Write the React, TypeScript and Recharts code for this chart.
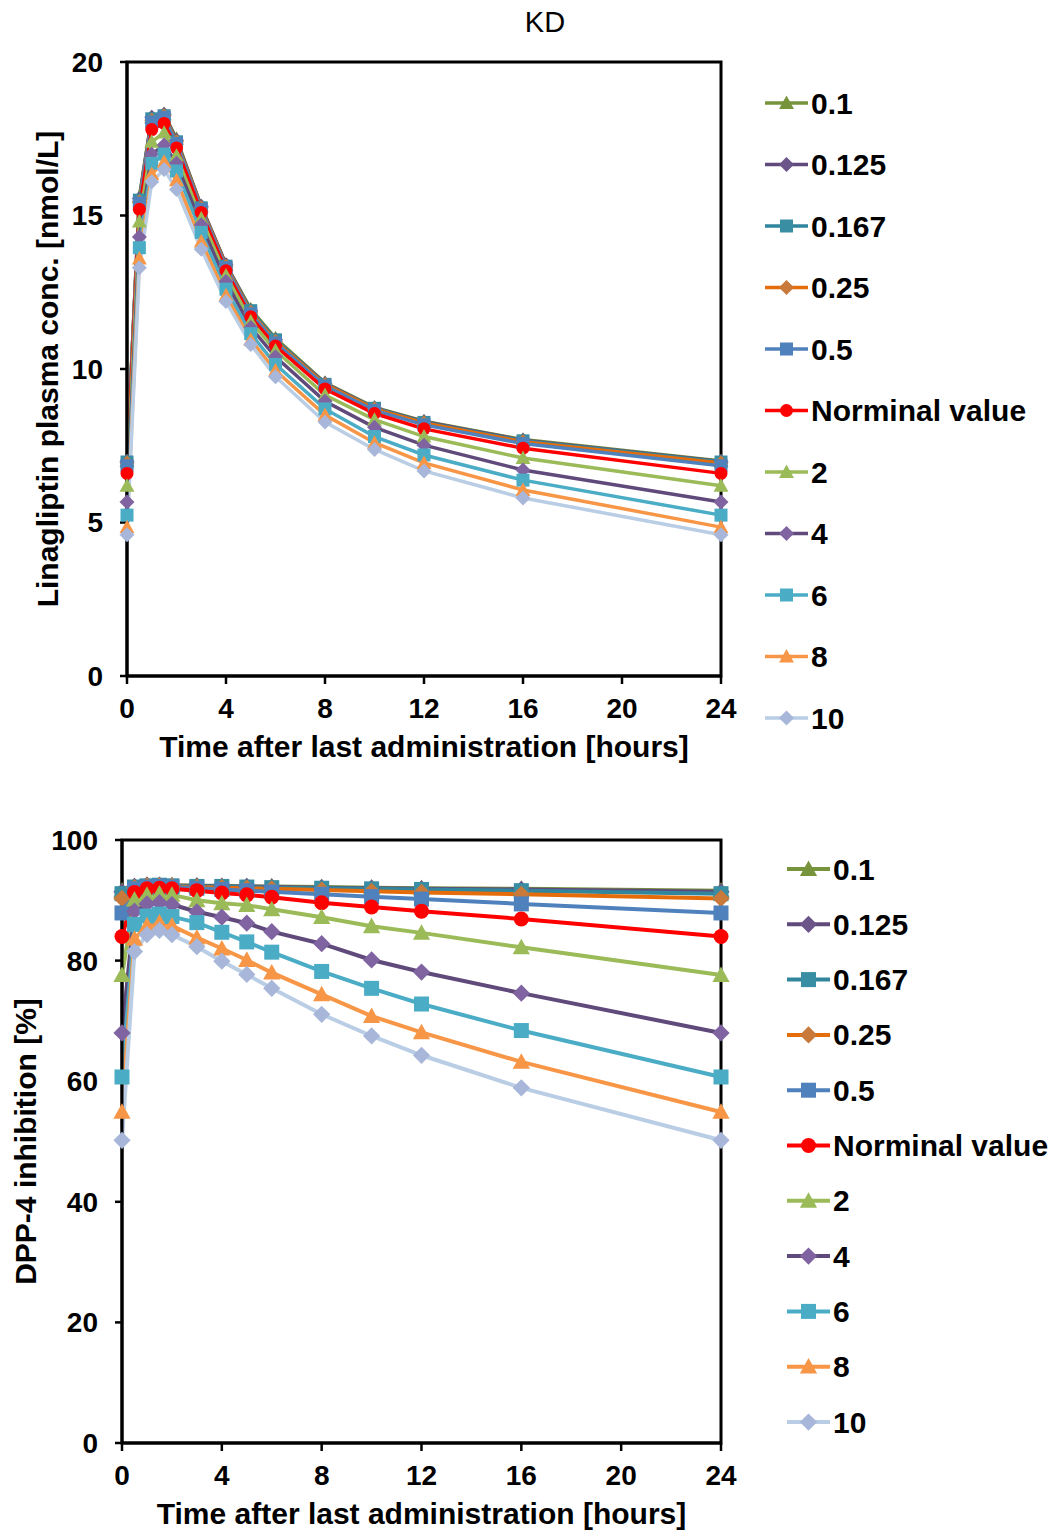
import { LineChart, Line, XAxis, YAxis, ReferenceArea } from 'recharts';

const FONT = '"Liberation Sans", Arial, sans-serif';

// hours after last dose
const TIMES = [0, 0.5, 1, 1.5, 2, 3, 4, 5, 6, 8, 10, 12, 16, 24];
const X_TICKS = [0, 4, 8, 12, 16, 20, 24];
const CONC_TICKS = [0, 5, 10, 15, 20];
const INHIB_TICKS = [0, 20, 40, 60, 80, 100];

const SERIES_NAMES = ['0.1', '0.125', '0.167', '0.25', '0.5', 'Norminal value', '2', '4', '6', '8', '10'];

// linagliptin plasma conc. [nmol/L]
const conc01 = [7.0, 15.6, 18.2, 18.3, 17.5, 15.3, 13.4, 11.95, 11.0, 9.55, 8.75, 8.3, 7.7, 7.0];
const conc0125 = [6.99, 15.55, 18.2, 18.3, 17.45, 15.3, 13.4, 11.9, 10.95, 9.53, 8.73, 8.28, 7.68, 6.99];
const conc0167 = [6.97, 15.5, 18.15, 18.25, 17.4, 15.25, 13.35, 11.9, 10.95, 9.5, 8.72, 8.26, 7.66, 6.97];
const conc025 = [6.94, 15.45, 18.1, 18.25, 17.4, 15.25, 13.35, 11.85, 10.9, 9.5, 8.7, 8.24, 7.63, 6.94];
const conc05 = [6.85, 15.4, 18.05, 18.2, 17.35, 15.2, 13.3, 11.8, 10.85, 9.45, 8.65, 8.18, 7.57, 6.85];
const concNom = [6.6, 15.2, 17.8, 18.0, 17.2, 15.1, 13.2, 11.7, 10.75, 9.35, 8.55, 8.05, 7.42, 6.6];
const conc2 = [6.2, 14.8, 17.4, 17.7, 16.95, 14.9, 13.05, 11.55, 10.6, 9.15, 8.35, 7.8, 7.1, 6.2];
const conc4 = [5.67, 14.3, 17.0, 17.3, 16.7, 14.7, 12.85, 11.35, 10.4, 8.95, 8.1, 7.52, 6.71, 5.67];
const conc6 = [5.24, 13.95, 16.7, 17.0, 16.45, 14.45, 12.6, 11.15, 10.15, 8.7, 7.8, 7.2, 6.38, 5.24];
const conc8 = [4.85, 13.6, 16.35, 16.75, 16.15, 14.15, 12.4, 10.95, 9.95, 8.5, 7.6, 6.94, 6.06, 4.85];
const conc10 = [4.6, 13.3, 16.1, 16.5, 15.85, 13.9, 12.2, 10.8, 9.75, 8.27, 7.38, 6.68, 5.8, 4.6];

// DPP-4 inhibition [%]
const inhib01 = [91.6, 92.3, 92.5, 92.5, 92.5, 92.4, 92.4, 92.3, 92.3, 92.2, 92.1, 92.0, 91.9, 91.6];
const inhib0125 = [91.4, 92.3, 92.5, 92.5, 92.4, 92.4, 92.3, 92.3, 92.2, 92.1, 92.0, 91.9, 91.8, 91.4];
const inhib0167 = [91.1, 92.2, 92.4, 92.5, 92.4, 92.3, 92.3, 92.2, 92.1, 92.0, 91.9, 91.8, 91.6, 91.1];
const inhib025 = [90.3, 92.1, 92.4, 92.4, 92.3, 92.2, 92.1, 92.0, 91.9, 91.7, 91.5, 91.3, 91.0, 90.3];
const inhib05 = [87.9, 91.9, 92.2, 92.3, 92.2, 92.0, 91.8, 91.6, 91.4, 91.0, 90.6, 90.2, 89.4, 87.9];
const inhibNom = [84.0, 91.3, 91.9, 92.0, 91.9, 91.6, 91.2, 90.9, 90.5, 89.6, 88.9, 88.2, 86.9, 84.0];
const inhib2 = [77.6, 90.1, 90.9, 91.1, 90.9, 90.0, 89.5, 89.2, 88.5, 87.2, 85.7, 84.6, 82.2, 77.6];
const inhib4 = [68.0, 88.2, 89.4, 89.6, 89.3, 88.1, 87.2, 86.2, 84.8, 82.8, 80.1, 78.1, 74.6, 68.0];
const inhib6 = [60.7, 86.0, 87.4, 87.7, 87.3, 86.3, 84.7, 83.1, 81.4, 78.2, 75.4, 72.8, 68.4, 60.7];
const inhib8 = [54.9, 83.6, 85.8, 86.3, 85.8, 83.8, 82.0, 80.1, 78.0, 74.4, 70.8, 68.1, 63.2, 54.9];
const inhib10 = [50.2, 81.5, 84.3, 85.0, 84.3, 82.3, 79.9, 77.7, 75.4, 71.1, 67.5, 64.3, 58.9, 50.2];

const CONC_SERIES = [conc01, conc0125, conc0167, conc025, conc05, concNom, conc2, conc4, conc6, conc8, conc10];
const INHIB_SERIES = [inhib01, inhib0125, inhib0167, inhib025, inhib05, inhibNom, inhib2, inhib4, inhib6, inhib8, inhib10];

const LINE_COLORS = ['#77933C', '#604A7B', '#31859C', '#E46C0A', '#4F81BD', '#FF0000', '#9BBB59', '#604A7B', '#4BACC6', '#F79646', '#B9CDE5'];
const MARKER_COLORS = ['#77933C', '#6B5589', '#3A8EA3', '#C9793A', '#4F81BD', '#FF0000', '#9BBB59', '#8064A2', '#4BACC6', '#F79646', '#A7B6D9'];
const SHAPES = ['triangle', 'diamond', 'square', 'diamond', 'square', 'circle', 'triangle', 'diamond', 'square', 'triangle', 'diamond'];

function buildRows(series: number[][]) {
    return TIMES.map((t, i) => {
        const row: Record<string, number> = { t };
        series.forEach((vals, k) => { row['s' + k] = vals[i]; });
        return row;
    });
}

function Marker({ shape, cx, cy, s, fill }: { shape: string; cx?: number; cy?: number; s: number; fill: string }) {
    if (cx == null || cy == null) return null;
    const h = s / 2;
    if (shape === 'circle') return <circle cx={cx} cy={cy} r={h} fill={fill} />;
    if (shape === 'square') return <rect x={cx - h} y={cy - h} width={s} height={s} fill={fill} />;
    if (shape === 'diamond') {
        const d = h * 1.15;
        return <polygon points={`${cx},${cy - d} ${cx + d},${cy} ${cx},${cy + d} ${cx - d},${cy}`} fill={fill} />;
    }
    const t = h * 1.15;
    return <polygon points={`${cx},${cy - t} ${cx + t},${cy + t * 0.8} ${cx - t},${cy + t * 0.8}`} fill={fill} />;
}

const tickStyle = { fill: '#000', fontSize: 28, fontWeight: 700, fontFamily: FONT };
const titleStyle = { fill: '#000', fontSize: 30, fontWeight: 700, fontFamily: FONT };

interface PanelProps {
    series: number[][];
    yMax: number;
    yTicks: number[];
    yLabel: string;
    yLabelX: number;
    marginTop: number;
    height: number;
    yAxisWidth: number;
    xAxisHeight: number;
    markerSize: number;
    lineWidth: number;
}

function Panel({ series, yMax, yTicks, yLabel, yLabelX, marginTop, height, yAxisWidth, xAxisHeight, markerSize, lineWidth }: PanelProps) {
    const rows = buildRows(series);
    return (
        <LineChart width={740} height={height} data={rows} margin={{ top: marginTop, right: 19, left: 0, bottom: 0 }}>
            <XAxis
                dataKey="t"
                type="number"
                domain={[0, 24]}
                ticks={X_TICKS}
                height={xAxisHeight}
                axisLine={{ stroke: '#000', strokeWidth: 3 }}
                tickLine={{ stroke: '#000', strokeWidth: 2.5 }}
                tickSize={8}
                tickMargin={14}
                tick={tickStyle}
                label={{
                    content: (props: any) => {
                        const vb = props.viewBox;
                        return (
                            <text x={vb.x + vb.width / 2} y={vb.y + 81} textAnchor="middle" style={titleStyle}>
                                Time after last administration [hours]
                            </text>
                        );
                    },
                }}
            />
            <YAxis
                type="number"
                domain={[0, yMax]}
                ticks={yTicks}
                width={yAxisWidth}
                axisLine={{ stroke: '#000', strokeWidth: 3 }}
                tickLine={{ stroke: '#000', strokeWidth: 2.5 }}
                tickSize={7}
                tickMargin={17}
                tick={tickStyle}
                label={{
                    content: (props: any) => {
                        const vb = props.viewBox;
                        const cy = vb.y + vb.height / 2;
                        return (
                            <text x={yLabelX} y={cy} transform={`rotate(-90 ${yLabelX} ${cy})`} textAnchor="middle" dominantBaseline="central" style={titleStyle}>
                                {yLabel}
                            </text>
                        );
                    },
                }}
            />
            <ReferenceArea x1={0} x2={24} y1={0} y2={yMax} fill="none" stroke="#000" strokeWidth={3} />
            {SERIES_NAMES.map((name, k) => (
                <Line
                    key={name}
                    dataKey={'s' + k}
                    name={name}
                    type="linear"
                    stroke={LINE_COLORS[k]}
                    strokeWidth={lineWidth}
                    isAnimationActive={false}
                    dot={(p: any) => <Marker key={`${k}-${p.index}`} shape={SHAPES[k]} cx={p.cx} cy={p.cy} s={markerSize} fill={MARKER_COLORS[k]} />}
                    activeDot={false}
                />
            ))}
        </LineChart>
    );
}

function SeriesLegend({ top, left, step, markerSize, lineWidth }: { top: number; left: number; step: number; markerSize: number; lineWidth: number }) {
    const pad = 25;
    return (
        <svg width={300} height={step * SERIES_NAMES.length + 2 * pad} style={{ position: 'absolute', left, top: top - pad, overflow: 'visible' }}>
            {SERIES_NAMES.map((name, k) => {
                const cy = pad + k * step;
                return (
                    <g key={name}>
                        <line x1={0} x2={43} y1={cy} y2={cy} stroke={LINE_COLORS[k]} strokeWidth={lineWidth} />
                        <Marker shape={SHAPES[k]} cx={21.5} cy={cy} s={markerSize} fill={MARKER_COLORS[k]} />
                        <text x={46} y={cy} dominantBaseline="central" style={titleStyle}>{name}</text>
                    </g>
                );
            })}
        </svg>
    );
}

export default function App() {
    return (
        <div style={{ position: 'absolute', left: 0, top: 0, width: 1052, height: 1532, overflow: 'hidden', background: '#fff', fontFamily: FONT }}>
            <div style={{ position: 'absolute', left: 445, top: 7, width: 200, textAlign: 'center', fontSize: 29, lineHeight: '30px', color: '#000' }}>KD</div>
            <div style={{ position: 'absolute', left: 0, top: 0 }}>
                <Panel series={CONC_SERIES} yMax={20} yTicks={CONC_TICKS} yLabel="Linagliptin plasma conc. [nmol/L]" yLabelX={47}
                    marginTop={62} height={770} yAxisWidth={127} xAxisHeight={94} markerSize={13} lineWidth={3.5} />
            </div>
            <SeriesLegend top={103} left={765} step={61.5} markerSize={13} lineWidth={3.5} />
            <div style={{ position: 'absolute', left: 0, top: 760 }}>
                <Panel series={INHIB_SERIES} yMax={100} yTicks={INHIB_TICKS} yLabel="DPP-4 inhibition [%]" yLabelX={25}
                    marginTop={80} height={772} yAxisWidth={122} xAxisHeight={89} markerSize={15} lineWidth={4} />
            </div>
            <SeriesLegend top={869} left={787} step={55.3} markerSize={15} lineWidth={4} />
        </div>
    );
}
